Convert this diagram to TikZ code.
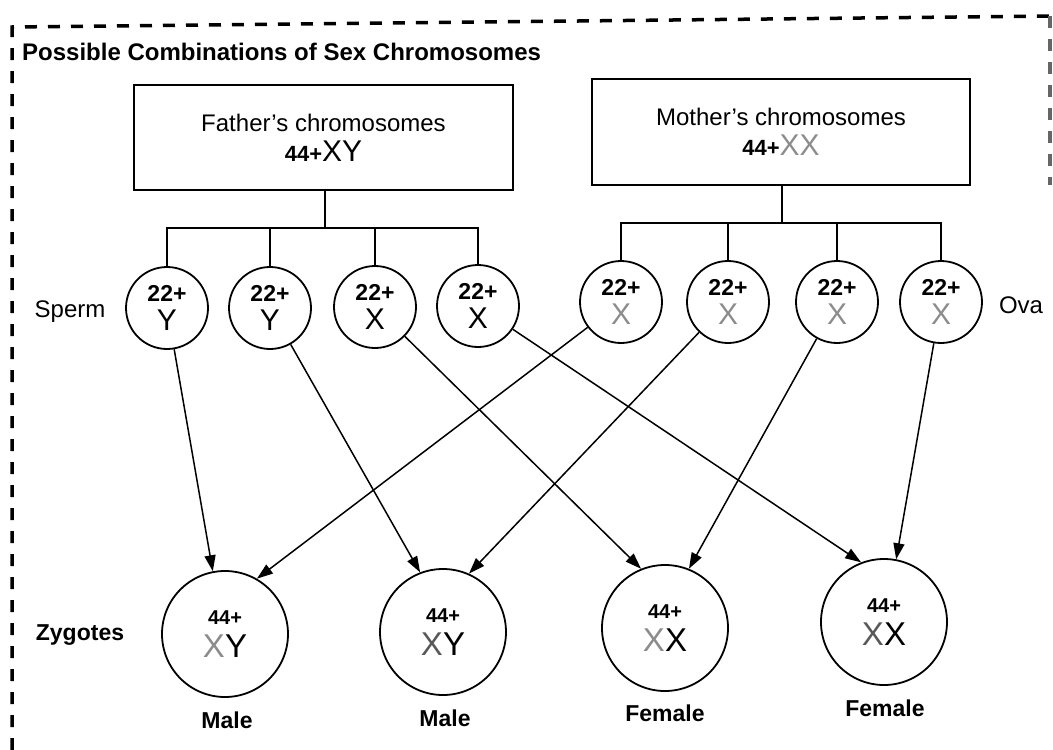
\documentclass[tikz,border=0pt]{standalone}
\usepackage{fontspec}
\setmainfont{Liberation Sans}
\usetikzlibrary{arrows.meta,calc}
\definecolor{momx}{gray}{0.55}
\definecolor{momxd}{gray}{0.35}
\newcommand{\gX}{\textcolor{momx}{X}}
\newcommand{\dX}{\textcolor{momxd}{X}}
\begin{document}
\begin{tikzpicture}[x=1pt,y=-1pt,
  box/.style={draw, line width=1.6pt, inner sep=0pt, align=center, font=\fontsize{24}{30}\selectfont},
  gam/.style={circle, draw, line width=1.8pt, minimum size=82pt, inner sep=0pt, align=center, font=\fontsize{23}{29}\selectfont},
  zyg/.style={circle, draw, line width=1.8pt, minimum size=126pt, inner sep=0pt, align=center, font=\fontsize{20}{33}\selectfont},
  conn/.style={line width=1.6pt},
  arr/.style={line width=1.5pt, -{Triangle[length=16pt,width=11pt]}},
  lab/.style={font=\fontsize{23}{23}\selectfont\bfseries, inner sep=0pt},
  rlab/.style={font=\fontsize{24}{24}\selectfont, inner sep=0pt},
  border/.style={line width=3.5pt, dash pattern=on 12pt off 11pt},
]
\useasboundingbox (0,0) rectangle (1053,750);

% border (open at the bottom)
\draw[border] (12,750) -- (12,27) -- (1050,16);
\draw[border, draw=black!60] (1050,16) -- (1050,185);

\node[lab, font=\fontsize{24}{24}\selectfont\bfseries, anchor=west] (title) at (22,52) {Possible Combinations of Sex Chromosomes};

% parents
\node[box, minimum width=379pt, minimum height=105pt] (F) at (323.5,137.5)
  {Father’s chromosomes\\{\fontsize{22}{22}\selectfont\bfseries 44+}{\fontsize{30}{30}\selectfont XY}};
\node[box, minimum width=378pt, minimum height=106pt] (M) at (781,132)
  {Mother’s chromosomes\\{\fontsize{22}{22}\selectfont\bfseries 44+}{\fontsize{30}{30}\selectfont\gX\gX}};

% gametes
\node[gam] (s1) at (167,308) {{\bfseries 22+}\\{\fontsize{30}{29}\selectfont Y}};
\node[gam] (s2) at (270,308) {{\bfseries 22+}\\{\fontsize{30}{29}\selectfont Y}};
\node[gam] (s3) at (375,307) {{\bfseries 22+}\\{\fontsize{30}{29}\selectfont X}};
\node[gam] (s4) at (478,306) {{\bfseries 22+}\\{\fontsize{30}{29}\selectfont X}};
\node[gam] (o1) at (621,302) {{\bfseries 22+}\\{\fontsize{30}{29}\selectfont\gX}};
\node[gam] (o2) at (728,302) {{\bfseries 22+}\\{\fontsize{30}{29}\selectfont\gX}};
\node[gam] (o3) at (837,302) {{\bfseries 22+}\\{\fontsize{30}{29}\selectfont\gX}};
\node[gam] (o4) at (941,302) {{\bfseries 22+}\\{\fontsize{30}{29}\selectfont\gX}};

\node[rlab] (sperm) at (70,312) {Sperm};
\node[rlab] (ova) at (1021,305) {Ova};

% tree connectors
\coordinate (fj) at (325,228);
\coordinate (mj) at (782,223);
\draw[conn] (F.south -| fj) -- (fj);
\draw[conn] (s1.north) -- (s1.north |- fj) -- (s4.north |- fj) -- (s4.north);
\draw[conn] (s2.north) -- (s2.north |- fj);
\draw[conn] (s3.north) -- (s3.north |- fj);
\draw[conn] (M.south -| mj) -- (mj);
\draw[conn] (o1.north) -- (o1.north |- mj) -- (o4.north |- mj) -- (o4.north);
\draw[conn] (o2.north) -- (o2.north |- mj);
\draw[conn] (o3.north) -- (o3.north |- mj);

% zygotes
\node[zyg] (z1) at (225,634) {{\bfseries 44+}\\{\fontsize{33}{33}\selectfont\gX Y}};
\node[zyg] (z2) at (443,632) {{\bfseries 44+}\\{\fontsize{33}{33}\selectfont\dX Y}};
\node[zyg] (z3) at (665,628) {{\bfseries 44+}\\{\fontsize{33}{33}\selectfont\gX X}};
\node[zyg] (z4) at (884,622) {{\bfseries 44+}\\{\fontsize{33}{33}\selectfont\dX X}};

\node[lab] (zl) at (80,635) {Zygotes};
\node[lab] (m1) at (227,720) {Male};
\node[lab] (m2) at (445,718) {Male};
\node[lab] (f1) at (665,713) {Female};
\node[lab] (f2) at (885,708) {Female};

% arrows
\draw[arr] (s1) -- (z1.101);
\draw[arr] (s2) -- (z2.111);
\draw[arr] (s3) -- (z3.112);
\draw[arr] (s4) -- (z4.111);
\draw[arr] (o1) -- (z1.60);
\draw[arr] (o2) -- (z2.66);
\draw[arr] (o3) -- (z3.68);
\draw[arr] (o4) -- (z4.79);
\end{tikzpicture}
\end{document}
